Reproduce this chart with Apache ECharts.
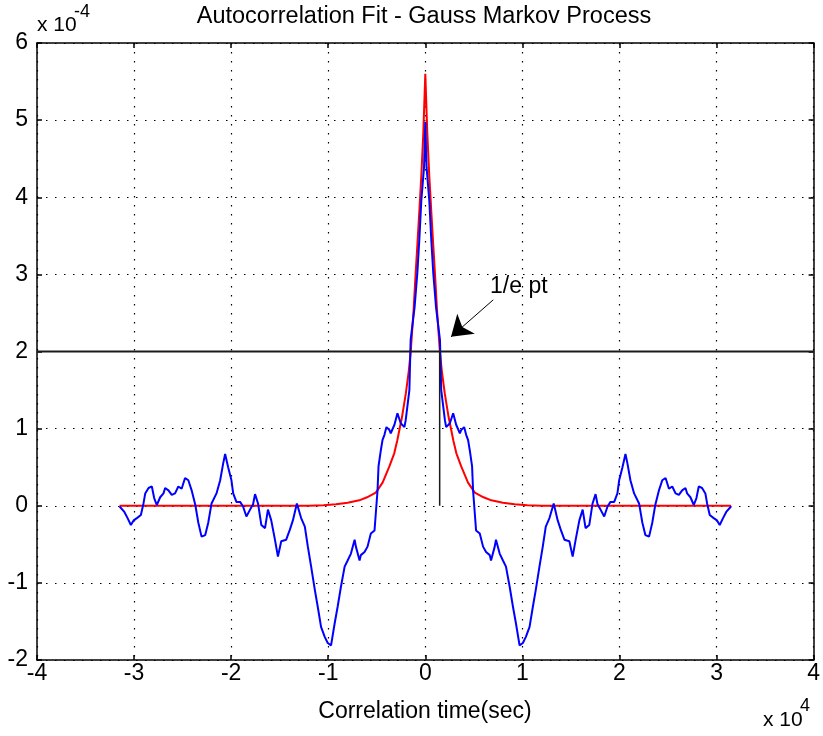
<!DOCTYPE html>
<html>
<head>
<meta charset="utf-8">
<script src="https://cdn.jsdelivr.net/npm/echarts@6/dist/echarts.min.js"></script>
<style>
  html, body { margin: 0; padding: 0; background: #fff; }
  #chart { width: 823px; height: 736px; }
</style>
</head>
<body>
<div id="chart"></div>
<script>
// Sample autocorrelation, positive-lag half (lag in units of 1e4 s, value in units of 1e-4).
// The autocorrelation is even, so the negative-lag half is its mirror image.
const lagPos = [0, 0.013, 0.041, 0.062, 0.082, 0.110, 0.151, 0.164, 0.202, 0.215, 0.253, 0.287, 0.318, 0.356,
  0.369, 0.400, 0.421, 0.441, 0.458, 0.482, 0.492, 0.510, 0.523, 0.561, 0.595, 0.626, 0.664, 0.677, 0.715,
  0.728, 0.766, 0.800, 0.831, 0.869, 0.903, 0.933, 0.971, 1.005, 1.036, 1.074, 1.108, 1.138, 1.176, 1.210,
  1.241, 1.279, 1.323, 1.364, 1.395, 1.433, 1.484, 1.518, 1.549, 1.587, 1.621, 1.651, 1.689, 1.723, 1.754,
  1.774, 1.805, 1.843, 1.877, 1.908, 1.946, 1.979, 1.997, 2.031, 2.062, 2.082, 2.113, 2.151, 2.202, 2.236,
  2.267, 2.305, 2.338, 2.369, 2.407, 2.441, 2.475, 2.510, 2.544, 2.578, 2.612, 2.646, 2.680, 2.697, 2.731,
  2.766, 2.793, 2.817, 2.851, 2.885, 2.903, 2.930, 2.971, 3.005, 3.033, 3.067, 3.100, 3.149];
const acfPos = [4.98, 4.39, 3.96, 3.44, 3.02, 2.58, 2.15, 1.50, 1.11, 1.02, 1.07, 1.20, 1.05, 0.94,
  0.98, 1.02, 0.92, 0.85, 0.72, 0.51, 0.20, -0.10, -0.32, -0.36, -0.53, -0.60, -0.64, -0.71, -0.53,
  -0.44, -0.62, -0.71, -0.79, -1.05, -1.31, -1.52, -1.81, -1.78, -1.70, -1.57, -1.31, -1.09, -0.79, -0.53,
  -0.27, -0.16, 0.03, -0.19, -0.31, -0.44, -0.46, -0.66, -0.44, -0.19, -0.05, -0.29, -0.25, 0.03, 0.15,
  0.02, -0.05, -0.14, -0.01, 0.05, 0.05, 0.16, 0.33, 0.50, 0.67, 0.55, 0.33, 0.16, 0.03, -0.22,
  -0.38, -0.40, -0.22, 0.01, 0.20, 0.33, 0.36, 0.22, 0.25, 0.16, 0.14, 0.20, 0.23, 0.16, 0.11,
  0.01, 0.10, 0.25, 0.23, 0.16, 0.03, -0.12, -0.16, -0.19, -0.25, -0.16, -0.08, -0.01];

// Gauss-Markov (exponential) fit, positive-lag half
const fitLag = [0, 0.02, 0.04, 0.06, 0.08, 0.10, 0.12, 0.15, 0.17, 0.20, 0.24, 0.29, 0.32, 0.37, 0.44, 0.51,
  0.60, 0.68, 0.80, 0.92, 1.05, 1.20, 3.15];
const fitVal = [5.6, 4.85, 4.3, 3.85, 3.42, 3.0, 2.55, 2.0, 1.75, 1.46, 1.15, 0.84, 0.68, 0.51, 0.30, 0.17,
  0.11, 0.07, 0.04, 0.02, 0.005, 0, 0];

// 1/e level and the lag where the fit crosses it
const oneOverELevel = 2.0;
const oneOverELag = 0.148;

// Annotation: text anchor and arrow (tail -> tip), in data units
const noteText = '1/e pt';
const noteAnchor = [0.667, 2.84];
const arrowTail = [0.70, 2.67];
const arrowTip = [0.265, 2.19];

const titleText = 'Autocorrelation Fit - Gauss Markov Process';
const xAxisTitle = 'Correlation time(sec)';

function mirror(lags, vals) {
  const out = [];
  for (let i = lags.length - 1; i >= 1; i--) out.push([-lags[i], vals[i]]);
  for (let i = 0; i < lags.length; i++) out.push([lags[i], vals[i]]);
  return out;
}

const FONT = 'Liberation Sans, Arial, Helvetica, sans-serif';
const gridDots = { color: '#000', width: 1.2, type: [1.5, 7.5] };
const frame = { color: '#000', width: 1.5 };

const chart = echarts.init(document.getElementById('chart'), null, { renderer: 'canvas' });

const option = {
  animation: false,
  backgroundColor: '#fff',
  grid: { left: 37, right: 6, top: 43, bottom: 76, containLabel: false },
  xAxis: [
    {
      type: 'value', min: -4, max: 4, interval: 1, position: 'bottom',
      axisLine: { onZero: false, lineStyle: frame },
      axisTick: { inside: true, length: 5, lineStyle: frame },
      axisLabel: { fontSize: 23, fontFamily: FONT, color: '#000', margin: 2 },
      splitLine: { show: true, lineStyle: gridDots }
    },
    {
      type: 'value', min: -4, max: 4, interval: 1, position: 'top',
      axisLine: { onZero: false, lineStyle: frame },
      axisTick: { inside: true, length: 5, lineStyle: frame },
      axisLabel: { show: false },
      splitLine: { show: false }
    }
  ],
  yAxis: [
    {
      type: 'value', min: -2, max: 6, interval: 1, position: 'left',
      axisLine: { onZero: false, lineStyle: frame },
      axisTick: { inside: true, length: 5, lineStyle: frame },
      axisLabel: { fontSize: 23, fontFamily: FONT, color: '#000', margin: 9 },
      splitLine: { show: true, lineStyle: gridDots }
    },
    {
      type: 'value', min: -2, max: 6, interval: 1, position: 'right',
      axisLine: { onZero: false, lineStyle: frame },
      axisTick: { inside: true, length: 5, lineStyle: frame },
      axisLabel: { show: false },
      splitLine: { show: false }
    }
  ],
  series: [
    {
      name: 'fit', type: 'line', z: 3, symbol: 'none', smooth: false,
      lineStyle: { color: '#ff0000', width: 2 },
      data: mirror(fitLag, fitVal)
    },
    {
      name: 'acf', type: 'line', z: 4, symbol: 'none', smooth: false,
      lineStyle: { color: '#0000ff', width: 2 },
      data: mirror(lagPos, acfPos)
    },
    {
      name: 'level', type: 'line', z: 5, symbol: 'none',
      lineStyle: { color: '#1a1a1a', width: 2 },
      data: [[-4, oneOverELevel], [4, oneOverELevel]],
      markLine: {
        silent: true, animation: false,
        symbol: ['none', 'arrow'], symbolSize: 20,
        lineStyle: { color: '#000', width: 1, type: 'solid' },
        label: { show: false },
        data: [[{ coord: arrowTail }, { coord: arrowTip }]]
      }
    },
    {
      name: 'lag', type: 'line', z: 5, symbol: 'none',
      lineStyle: { color: '#1a1a1a', width: 1.5 },
      data: [[oneOverELag, 0], [oneOverELag, oneOverELevel]]
    }
  ],
  graphic: [
    { type: 'text', x: 424, y: 16.5, style: { text: titleText, fontSize: 23.5, fontFamily: FONT, fill: '#000', align: 'center', verticalAlign: 'middle' } },
    { type: 'text', x: 425, y: 712, style: { text: xAxisTitle, fontSize: 23, fontFamily: FONT, fill: '#000', align: 'center', verticalAlign: 'middle' } },
    { type: 'text', x: 37, y: 25, style: { text: 'x 10', fontSize: 21, fontFamily: FONT, fill: '#000', align: 'left', verticalAlign: 'middle' } },
    { type: 'text', x: 74, y: 12, style: { text: '-4', fontSize: 18, fontFamily: FONT, fill: '#000', align: 'left', verticalAlign: 'middle' } },
    { type: 'text', x: 763, y: 720, style: { text: 'x 10', fontSize: 21, fontFamily: FONT, fill: '#000', align: 'left', verticalAlign: 'middle' } },
    { type: 'text', x: 800, y: 706, style: { text: '4', fontSize: 18, fontFamily: FONT, fill: '#000', align: 'left', verticalAlign: 'middle' } }
  ]
};

chart.setOption(option);

// Place the annotation text at its data anchor
const p = chart.convertToPixel({ xAxisIndex: 0, yAxisIndex: 0 }, noteAnchor);
chart.setOption({
  graphic: [
    { id: 'note', type: 'text', x: p[0], y: p[1], style: { text: noteText, fontSize: 23, fontFamily: FONT, fill: '#000', align: 'left', verticalAlign: 'middle' } }
  ]
});
</script>
</body>
</html>
